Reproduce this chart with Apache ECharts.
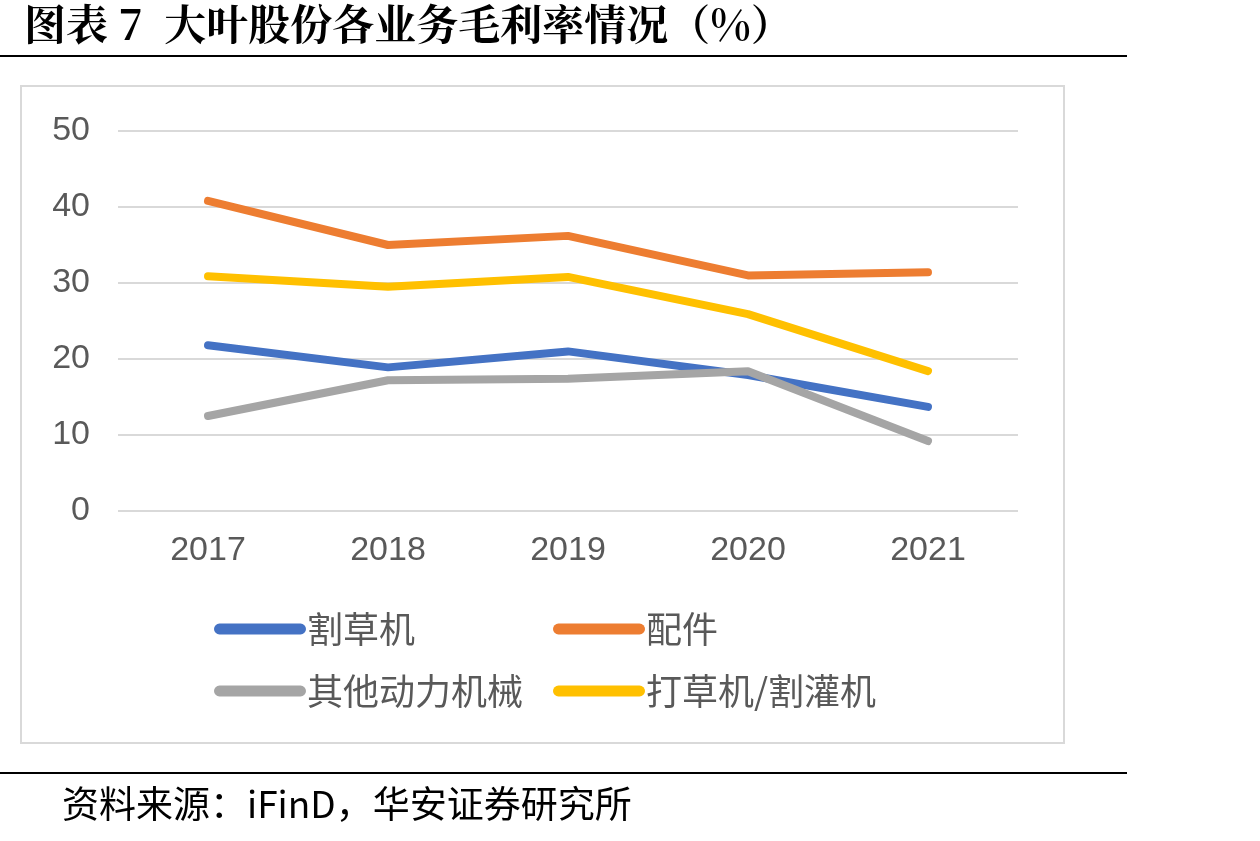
<!DOCTYPE html>
<html><head><meta charset="utf-8">
<script src="https://cdn.jsdelivr.net/npm/echarts@6/dist/echarts.min.js"></script>
<style>html,body{margin:0;padding:0;background:#fff}#c{width:1260px;height:841px}</style>
</head><body><div id="c"></div>
<script>
const categories = ['2017','2018','2019','2020','2021'];
const mower = [21.8, 18.9, 21.0, 17.9, 13.7];
const parts = [40.8, 35.0, 36.2, 31.0, 31.4];
const otherPower = [12.5, 17.2, 17.4, 18.4, 9.2];
const trimmer = [30.9, 29.5, 30.8, 25.9, 18.4];
const seriesNames = ['割草机','配件','其他动力机械','打草机/割灌机'];
const colors = ['#4472C4','#ED7D31','#A5A5A5','#FFC000'];
const yTicks = [0, 10, 20, 30, 40, 50];

const chart = echarts.init(document.getElementById('c'));
const cap = 'path://M5,0 L79,0 A5,5 0 0 1 79,10 L5,10 A5,5 0 0 1 5,0 Z';
const legendText = {fontSize: 36, color: '#595959', fontFamily: 'Noto Sans CJK SC', padding:[0,0,0,-4]};
const dataArr = [mower, parts, otherPower, trimmer];
chart.setOption({
  animation: false,
  color: colors,
  grid: {left: 118, right: 242, top: 131, bottom: 330, containLabel: false},
  xAxis: {
    type: 'category', data: categories, boundaryGap: true,
    axisLine: {show: false}, axisTick: {show: false},
    axisLabel: {fontSize: 34, color: '#595959', fontFamily: 'Arial, Liberation Sans', margin: 23}
  },
  yAxis: {
    type: 'value', min: yTicks[0], max: yTicks[yTicks.length-1], interval: 10,
    axisLine: {show: false}, axisTick: {show: false},
    axisLabel: {fontSize: 34, color: '#595959', fontFamily: 'Arial, Liberation Sans', margin: 28, padding: [8,0,0,0]},
    splitLine: {lineStyle: {color: '#D9D9D9', width: 2}}
  },
  legend: [
    {data: [seriesNames[0], seriesNames[2]], orient: 'vertical', left: 209, top: 606, itemGap: 26,
     itemWidth: 92, itemHeight: 11, icon: cap, textStyle: legendText},
    {data: [seriesNames[1], seriesNames[3]], orient: 'vertical', left: 548, top: 606, itemGap: 26,
     itemWidth: 92, itemHeight: 11, icon: cap, textStyle: legendText}
  ],
  series: seriesNames.map((n, i) => ({
    name: n, type: 'line', data: dataArr[i], symbol: 'none',
    lineStyle: {width: 8, cap: 'round', join: 'round', color: colors[i]},
    itemStyle: {color: colors[i]}
  })),
  graphic: [
    {type: 'text', left: 24, top: 3, style: {text: '图表 7  大叶股份各业务毛利率情况（%）', font: 'bold 42px "Noto Serif CJK SC", "Noto Sans CJK SC"', fill: '#000'}},
    {type: 'line', shape: {x1: 0, y1: 56, x2: 1127, y2: 56}, style: {stroke: '#000', lineWidth: 2}},
    {type: 'rect', shape: {x: 21, y: 86, width: 1043, height: 657}, style: {fill: 'none', stroke: '#D9D9D9', lineWidth: 2}, z: -1},
    {type: 'line', shape: {x1: 0, y1: 773, x2: 1127, y2: 773}, style: {stroke: '#000', lineWidth: 2}},
    {type: 'text', left: 62, top: 785, style: {text: '资料来源：iFinD，华安证券研究所', font: '37px "Noto Sans CJK SC"', fill: '#000'}}
  ]
});
</script></body></html>
